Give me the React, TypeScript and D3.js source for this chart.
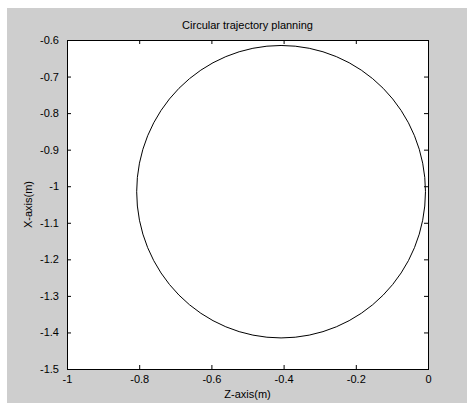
import { useEffect, useRef } from 'react';
import * as d3 from 'd3';

const title = 'Circular trajectory planning';
const xLabel = 'Z-axis(m)';
const yLabel = 'X-axis(m)';
const xDomain = [-1, 0];
const yDomain = [-1.5, -0.6];
const xTicks = [-1, -0.8, -0.6, -0.4, -0.2, 0];
const yTicks = [-1.5, -1.4, -1.3, -1.2, -1.1, -1, -0.9, -0.8, -0.7, -0.6];
// trajectory: centre (z, x) and radius in metres
const center = [-0.407, -1.015];
const radius = 0.4;

const W = 467;
const H = 403;

export default function App() {
  const ref = useRef<SVGSVGElement>(null);

  useEffect(() => {
    const svg = d3.select(ref.current);
    svg.selectAll('*').remove();

    const left = 67, right = 428, top = 40, bottom = 369;
    const font = 'Arial, "Liberation Sans", sans-serif';

    svg.append('rect').attr('x', 7).attr('y', 8).attr('width', W - 7).attr('height', H - 8).attr('fill', '#cecece');
    svg.append('rect').attr('x', left).attr('y', top).attr('width', right - left).attr('height', bottom - top).attr('fill', '#fff');

    const x = d3.scaleLinear().domain(xDomain).range([left, right]);
    const y = d3.scaleLinear().domain(yDomain).range([bottom, top]);

    const fmt = (d: d3.NumberValue) => (+d === 0 ? '0' : String(+d));

    const styleAxis = (g: d3.Selection<SVGGElement, unknown, null, undefined>) => {
      g.select('.domain').remove();
      g.selectAll('line').attr('stroke', '#000');
      g.selectAll('text').attr('fill', '#000').style('font-family', font).style('font-size', '11px');
    };

    svg.append('g').attr('transform', `translate(0,${bottom})`)
      .call(d3.axisBottom(x).tickValues(xTicks).tickFormat(fmt).tickSizeInner(-4).tickSizeOuter(0).tickPadding(6))
      .call(styleAxis);
    svg.append('g').attr('transform', `translate(0,${top})`)
      .call(d3.axisTop(x).tickValues(xTicks).tickFormat(() => '').tickSizeInner(-4).tickSizeOuter(0))
      .call(styleAxis);
    svg.append('g').attr('transform', `translate(${left},0)`)
      .call(d3.axisLeft(y).tickValues(yTicks).tickFormat(fmt).tickSizeInner(-4).tickSizeOuter(0).tickPadding(8))
      .call(styleAxis);
    svg.append('g').attr('transform', `translate(${right},0)`)
      .call(d3.axisRight(y).tickValues(yTicks).tickFormat(() => '').tickSizeInner(-4).tickSizeOuter(0))
      .call(styleAxis);

    svg.append('rect').attr('x', left).attr('y', top).attr('width', right - left).attr('height', bottom - top)
      .attr('fill', 'none').attr('stroke', '#000').attr('stroke-width', 1).attr('shape-rendering', 'crispEdges');

    svg.append('ellipse')
      .attr('cx', x(center[0]))
      .attr('cy', y(center[1]))
      .attr('rx', x(radius) - x(0))
      .attr('ry', y(0) - y(radius))
      .attr('fill', 'none')
      .attr('stroke', '#000')
      .attr('stroke-width', 1);

    svg.append('text').attr('x', (left + right) / 2).attr('y', 29).attr('text-anchor', 'middle')
      .style('font-family', font).style('font-size', '11px').text(title);
    svg.append('text').attr('x', (left + right) / 2).attr('y', 398).attr('text-anchor', 'middle')
      .style('font-family', font).style('font-size', '11px').text(xLabel);
    svg.append('text').attr('transform', `translate(32,${(top + bottom) / 2}) rotate(-90)`).attr('text-anchor', 'middle')
      .style('font-family', font).style('font-size', '11px').text(yLabel);
  }, []);

  return <svg ref={ref} width={W} height={H} style={{ position: 'absolute', left: 0, top: 0 }} />;
}
